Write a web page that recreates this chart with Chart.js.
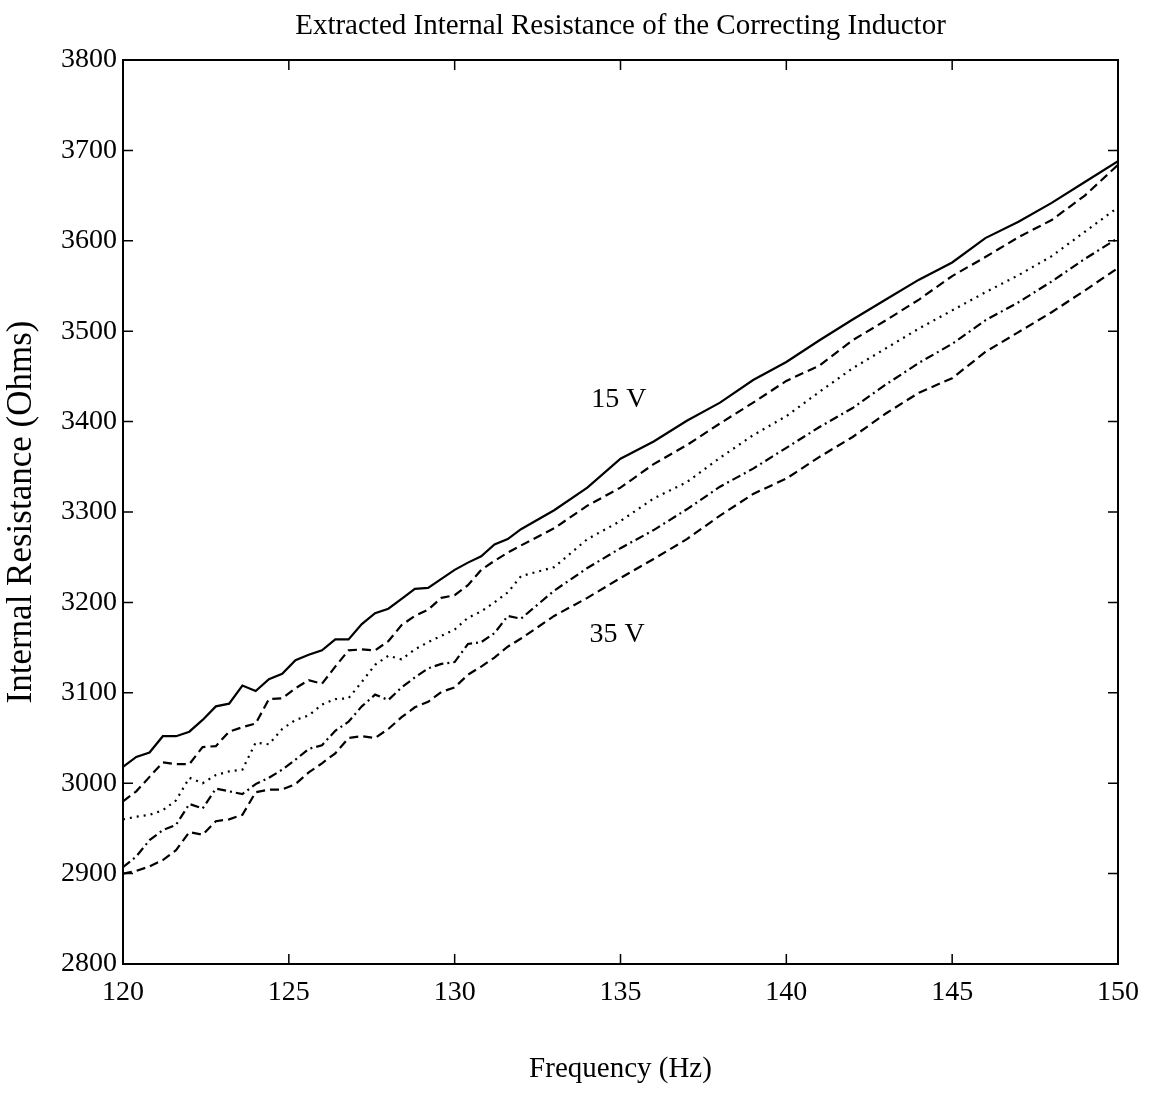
<!DOCTYPE html>
<html>
<head>
<meta charset="utf-8">
<title>Extracted Internal Resistance of the Correcting Inductor</title>
<script src="https://cdn.jsdelivr.net/npm/chart.js@4.4.0/dist/chart.umd.min.js"></script>
<style>
  html, body { margin: 0; padding: 0; background: #fff; }
  canvas { display: block; }
</style>
</head>
<body>
<canvas id="myChart" width="1156" height="1095"></canvas>
<script>
// Frequency points (Hz)
const freq = [120, 120.4, 120.8, 121.2, 121.6, 122, 122.4, 122.8, 123.2, 123.6,
  124, 124.4, 124.8, 125.2, 125.6, 126, 126.4, 126.8, 127.2, 127.6,
  128, 128.4, 128.8, 129.2, 129.6, 130, 130.4, 130.8, 131.2, 131.6,
  132, 133, 134, 135, 136, 137, 138, 139, 140, 141,
  142, 143, 144, 145, 146, 147, 148, 149, 150];

// Internal resistance (Ohms), one curve per drive voltage, 15 V on top
const r15 = [3018, 3029, 3034, 3052, 3052, 3057, 3070, 3085, 3088, 3108,
  3102, 3115, 3121, 3136, 3142, 3147, 3159, 3159, 3176, 3188,
  3193, 3204, 3215, 3216, 3226, 3236, 3244, 3251, 3264, 3270,
  3281, 3302, 3327, 3359, 3378, 3401, 3421, 3446, 3466, 3490,
  3513, 3535, 3557, 3576, 3603, 3621, 3642, 3665, 3688];
const r20 = [2980, 2991, 3007, 3023, 3021, 3021, 3040, 3041, 3057, 3062,
  3066, 3093, 3094, 3105, 3114, 3110, 3129, 3147, 3148, 3147,
  3157, 3175, 3185, 3192, 3205, 3208, 3219, 3236, 3246, 3255,
  3263, 3282, 3307, 3327, 3353, 3374, 3398, 3421, 3445, 3462,
  3490, 3512, 3535, 3561, 3582, 3604, 3623, 3650, 3684];
const r25 = [2960, 2963, 2965, 2970, 2981, 3006, 3000, 3009, 3013, 3015,
  3045, 3043, 3060, 3070, 3075, 3087, 3093, 3094, 3112, 3131,
  3141, 3137, 3148, 3156, 3163, 3170, 3183, 3190, 3200, 3211,
  3229, 3239, 3270, 3290, 3315, 3333, 3360, 3385, 3406, 3433,
  3459, 3481, 3503, 3523, 3543, 3562, 3583, 3610, 3637];
const r30 = [2907, 2919, 2937, 2948, 2954, 2977, 2972, 2994, 2991, 2988,
  2999, 3006, 3015, 3026, 3038, 3042, 3058, 3068, 3085, 3098,
  3092, 3106, 3117, 3127, 3132, 3134, 3154, 3156, 3166, 3185,
  3182, 3213, 3238, 3260, 3280, 3303, 3328, 3348, 3371, 3394,
  3415, 3441, 3465, 3486, 3512, 3532, 3555, 3580, 3603];
const r35 = [2900, 2903, 2908, 2915, 2926, 2946, 2943, 2958, 2960, 2965,
  2990, 2993, 2993, 2999, 3012, 3022, 3033, 3050, 3052, 3050,
  3060, 3073, 3084, 3090, 3101, 3106, 3120, 3129, 3139, 3151,
  3160, 3185, 3205, 3227, 3248, 3270, 3296, 3320, 3337, 3361,
  3383, 3409, 3432, 3448, 3477, 3499, 3521, 3545, 3570];

// Curve labels placed in data coordinates
const labelText = ['15 V', '35 V'];
const labelFreq = [134.95, 134.9];
const labelOhms = [3424, 3164];

const FONT = "'Liberation Serif', 'Times New Roman', 'DejaVu Serif', serif";

function toPoints(vals) {
    return freq.map((f, i) => ({ x: f, y: vals[i] }));
}

function curve(vals, dash) {
    return {
        data: toPoints(vals),
        borderColor: '#000',
        borderWidth: 2.2,
        borderDash: dash,
        pointRadius: 0,
        tension: 0,
        fill: false
    };
}

// Frame, inward ticks on all four sides, title and curve labels
const framePlugin = {
    id: 'frame',
    afterDraw(chart) {
        const ctx = chart.ctx;
        const a = chart.chartArea;
        const xs = chart.scales.x;
        const ys = chart.scales.y;
        ctx.save();
        ctx.strokeStyle = '#000';
        ctx.lineWidth = 2;
        ctx.strokeRect(a.left, a.top, a.right - a.left, a.bottom - a.top);
        ctx.lineWidth = 1.5;
        ctx.beginPath();
        xs.ticks.forEach(t => {
            const px = xs.getPixelForValue(t.value);
            ctx.moveTo(px, a.bottom); ctx.lineTo(px, a.bottom - 10);
            ctx.moveTo(px, a.top); ctx.lineTo(px, a.top + 10);
        });
        ys.ticks.forEach(t => {
            const py = ys.getPixelForValue(t.value);
            ctx.moveTo(a.left, py); ctx.lineTo(a.left + 10, py);
            ctx.moveTo(a.right, py); ctx.lineTo(a.right - 10, py);
        });
        ctx.stroke();

        ctx.fillStyle = '#000';
        ctx.textAlign = 'center';
        ctx.textBaseline = 'middle';
        ctx.font = '29px ' + FONT;
        ctx.fillText('Extracted Internal Resistance of the Correcting Inductor', (a.left + a.right) / 2, 26);

        ctx.font = '28px ' + FONT;
        labelText.forEach((txt, i) => {
            ctx.fillText(txt, xs.getPixelForValue(labelFreq[i]), ys.getPixelForValue(labelOhms[i]));
        });
        ctx.restore();
    }
};

const ctx = document.getElementById('myChart').getContext('2d');

const myChart = new Chart(ctx, {
    type: 'line',
    data: {
        datasets: [
            curve(r15, []),
            curve(r20, [9, 5]),
            curve(r25, [2, 5]),
            curve(r30, [9, 4, 2, 4]),
            curve(r35, [9, 5])
        ]
    },
    options: {
        responsive: false,
        animation: false,
        layout: { padding: { top: 60, right: 38, left: 0, bottom: 0 } },
        plugins: {
            legend: { display: false },
            tooltip: { enabled: false }
        },
        scales: {
            x: {
                type: 'linear',
                min: 120,
                max: 150,
                afterFit(scale) { scale.height = 131; },
                grid: { display: false, drawTicks: false },
                border: { display: false },
                ticks: {
                    stepSize: 5,
                    color: '#000',
                    padding: 12,
                    maxRotation: 0,
                    callback: v => String(v),
                    font: { family: FONT, size: 28 }
                },
                title: {
                    display: true,
                    text: 'Frequency (Hz)',
                    color: '#000',
                    font: { family: FONT, size: 29 },
                    padding: { top: 0, bottom: 8 }
                }
            },
            y: {
                min: 2800,
                max: 3800,
                afterFit(scale) { scale.width = 123; },
                grid: { display: false, drawTicks: false },
                border: { display: false },
                ticks: {
                    stepSize: 100,
                    color: '#000',
                    padding: 6,
                    callback: v => String(v),
                    font: { family: FONT, size: 28 }
                },
                title: {
                    display: true,
                    text: 'Internal Resistance (Ohms)',
                    color: '#000',
                    font: { family: FONT, size: 35 },
                    padding: { top: 1, bottom: 0 }
                }
            }
        }
    },
    plugins: [framePlugin]
});
</script>
</body>
</html>
